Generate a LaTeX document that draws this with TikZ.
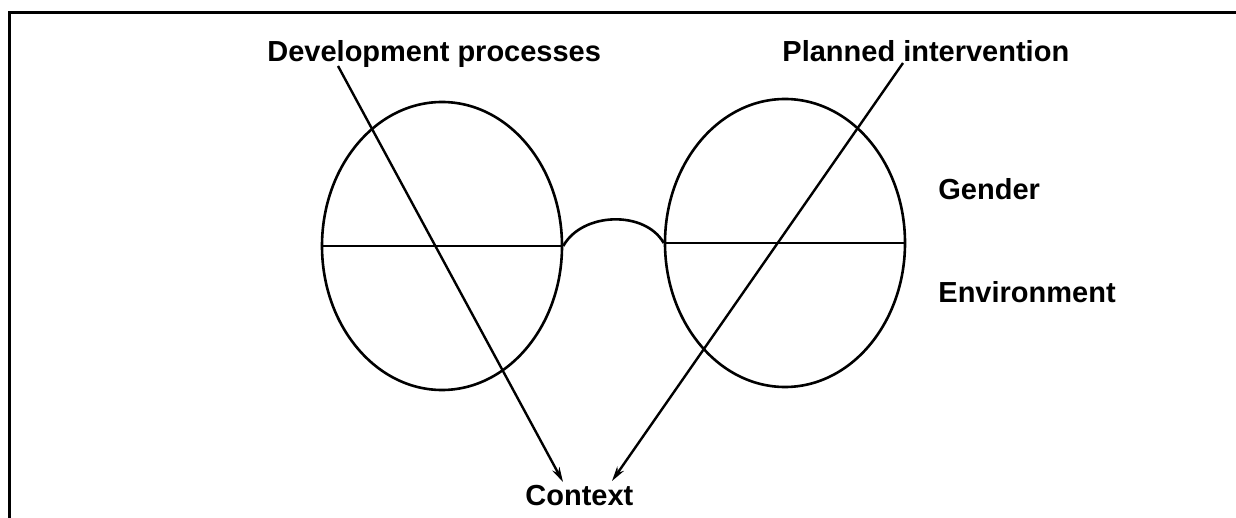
\documentclass[tikz,border=0pt]{standalone}
\usepackage{fontspec}
\setmainfont{Liberation Sans}
\usetikzlibrary{arrows.meta,shapes.geometric}
\tikzset{
 frameline/.style={line width=1.5pt},
 rim/.style={ellipse,draw,line width=1.3pt,minimum width=120pt,minimum height=144pt,inner sep=0},
 bar/.style={line width=1.3pt},
 pointer/.style={line width=1.2pt,-{Stealth[length=7.5pt,width=4pt]}},
 heading/.style={font=\bfseries\fontsize{14.5}{17}\selectfont,inner sep=0,anchor=base west}
}
\begin{document}
\begin{tikzpicture}[x=0.5pt,y=-0.5pt]
\path[use as bounding box] (0,0) rectangle (1236,518);
\draw[frameline] (9,518) -- (9,13) -- (1236,13);
\node[rim] (lensL) at (442,246) {};
\node[rim] (lensR) at (785,243) {};
\draw[bar] (lensL.west) -- (lensL.east);
\draw[bar] (lensR.west) -- (lensR.east);
\draw[bar] (lensL.east) .. controls (582,212) and (645,210) .. (lensR.west);
\node[heading] (dev) at (267,62) {Development processes};
\node[heading] (plan) at (782,62) {Planned intervention};
\node[heading] (gender) at (938,200) {Gender};
\node[heading] (env) at (938,302) {Environment};
\node[heading] (ctx) at (525,505) {Context};
\coordinate (devfoot) at (338,66);
\coordinate (planfoot) at (903,63);
\coordinate (ctxL) at (563,482);
\coordinate (ctxR) at (612,481);
\draw[pointer] (devfoot) -- (ctxL);
\draw[pointer] (planfoot) -- (ctxR);
\end{tikzpicture}
\end{document}
